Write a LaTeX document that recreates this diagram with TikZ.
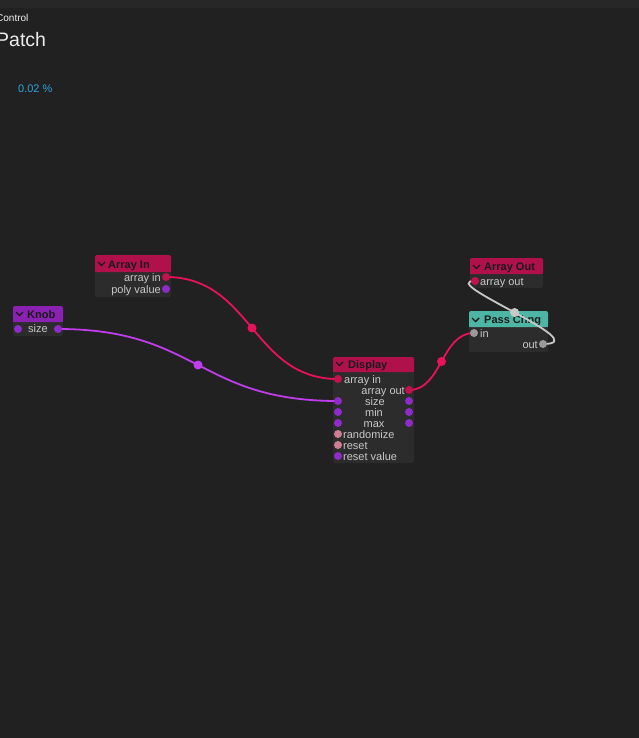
\documentclass[tikz,border=0pt]{standalone}
\usepackage{fontspec}
\setmainfont{Liberation Sans}
\definecolor{bgdark}{HTML}{212121}
\definecolor{bgbar}{HTML}{272727}
\definecolor{boxbody}{HTML}{2C2C2C}
\definecolor{hdrred}{HTML}{B0114B}
\definecolor{hdrpurple}{HTML}{8A21B2}
\definecolor{hdrteal}{HTML}{4DB5A4}
\definecolor{titletxt}{HTML}{1A1A1A}
\definecolor{lbltxt}{HTML}{C8C8C8}
\definecolor{prtred}{HTML}{C4124F}
\definecolor{prtpurple}{HTML}{8E2BC9}
\definecolor{prtpink}{HTML}{CF7D92}
\definecolor{prtgray}{HTML}{9A9A9A}
\definecolor{wirered}{HTML}{E8125C}
\definecolor{wirepurple}{HTML}{C03CEC}
\definecolor{wiregray}{HTML}{C8C8C8}
\definecolor{pctblue}{HTML}{2EA3DC}
\newcommand\pxfont[1]{\fontsize{#1}{#1}\selectfont}
\pgfdeclarelayer{top}
\pgfsetlayers{main,top}

\begin{document}
\begin{tikzpicture}[x=1pt,y=-1pt,
  boxbg/.style={fill=boxbody,rounded corners=2pt},
  title/.style={anchor=base west,inner sep=0pt,text=titletxt,font=\bfseries\pxfont{11}},
  lbl/.style={inner sep=0pt,text=lbltxt,font=\pxfont{11}},
  chev/.style={draw=titletxt,line width=1.4pt},
  port/.style={circle,fill=#1,inner sep=0pt,minimum size=8pt},
  wire/.style={draw=#1,line width=1.8pt},
  middot/.style={circle,fill=#1,inner sep=0pt,minimum size=9pt}]
  \useasboundingbox (0,0) rectangle (639,738);
  \clip (0,0) rectangle (639,738);
  \fill[bgdark] (0,0) rectangle (639,738);
  \fill[bgbar] (0,0) rectangle (639,8);
  \node[anchor=base west,inner sep=0pt,text=white!90!gray,font=\pxfont{10}] (ctrl) at (-4,22) {Control};
  \node[anchor=base west,inner sep=0pt,text=white!85!gray,font=\pxfont{19.5}] (patch) at (-4,47) {Patch};
  \node[anchor=base west,inner sep=0pt,text=pctblue,font=\pxfont{11}] (pct) at (18,93) {0.02 \%};

  % Array In
  \fill[boxbg] (95,255) rectangle (171,297);
  \fill[hdrred,rounded corners=2pt] (95,255) rectangle (171,272);
  \fill[hdrred] (95,266) rectangle (171,272);
  \draw[chev] (98,262) -- (101.5,265.5) -- (105,262);
  \node[title] (arrin) at (108,268) {Array In};
  \node[lbl,anchor=base east] (arrin-l1) at (161,281) {array in};
  \node[lbl,anchor=base east] (arrin-l2) at (161,293) {poly value};

  % Knob
  \fill[boxbg] (13,306) rectangle (63,336);
  \fill[hdrpurple,rounded corners=2pt] (13,306) rectangle (63,322);
  \fill[hdrpurple] (13,316) rectangle (63,322);
  \draw[chev] (16,312) -- (19.5,315.5) -- (23,312);
  \node[title] (knob) at (27,318) {Knob};
  \node[lbl,anchor=base west] (knob-l1) at (28,332.5) {size};

  % Display
  \fill[boxbg] (333,357) rectangle (414,463);
  \fill[hdrred,rounded corners=2pt] (333,357) rectangle (414,372);
  \fill[hdrred] (333,366) rectangle (414,372);
  \draw[chev] (336,362) -- (339.5,365.5) -- (343,362);
  \node[title] (disp) at (348,368) {Display};
  \node[lbl,anchor=base west] (disp-l1) at (344,383) {array in};
  \node[lbl,anchor=base east] (disp-l2) at (405,394) {array out};
  \node[lbl,anchor=base] (disp-l3) at (375,405) {size};
  \node[lbl,anchor=base] (disp-l4) at (374,416) {min};
  \node[lbl,anchor=base] (disp-l5) at (374,427) {max};
  \node[lbl,anchor=base west] (disp-l6) at (343,438) {randomize};
  \node[lbl,anchor=base west] (disp-l7) at (343,449) {reset};
  \node[lbl,anchor=base west] (disp-l8) at (343,460) {reset value};

  % Array Out
  \fill[boxbg] (470,258) rectangle (543,288);
  \fill[hdrred,rounded corners=2pt] (470,258) rectangle (543,274);
  \fill[hdrred] (470,268) rectangle (543,274);
  \draw[chev] (473,265) -- (476.5,268.5) -- (480,265);
  \node[title] (aout) at (484,270) {Array Out};
  \node[lbl,anchor=base west] (aout-l1) at (480,285) {array out};

  % Pass Chng
  \fill[boxbg] (469,311) rectangle (548,352);
  \fill[hdrteal,rounded corners=2pt] (469,311) rectangle (548,327);
  \fill[hdrteal] (469,321) rectangle (548,327);
  \draw[chev] (472,318) -- (475.5,321.5) -- (479,318);
  \node[title] (pc) at (484,323) {Pass Chng};
  \node[lbl,anchor=base west] (pc-l1) at (480,337) {in};
  \node[lbl,anchor=base east] (pc-l2) at (538,348) {out};

  % ports
  \begin{pgfonlayer}{top}
    \node[port=prtred] (arrin-arr) at (166,277) {};
    \node[port=prtpurple] (arrin-poly) at (166,289) {};
    \node[port=prtpurple] (knob-in) at (18,329) {};
    \node[port=prtpurple] (knob-size) at (58,329) {};
    \node[port=prtred] (disp-arr) at (338,379) {};
    \node[port=prtpurple] (disp-size) at (338,401) {};
    \node[port=prtpurple] (disp-min) at (338,412) {};
    \node[port=prtpurple] (disp-max) at (338,423) {};
    \node[port=prtpink] (disp-rand) at (338,434) {};
    \node[port=prtpink] (disp-reset) at (338,445) {};
    \node[port=prtpurple] (disp-rval) at (338,456) {};
    \node[port=prtred] (disp-out) at (409,390) {};
    \node[port=prtpurple] (disp-osize) at (409,401) {};
    \node[port=prtpurple] (disp-omin) at (409,412) {};
    \node[port=prtpurple] (disp-omax) at (409,423) {};
    \node[port=prtred] (aout-in) at (475,281) {};
    \node[port=prtgray] (pc-in) at (474,333) {};
    \node[port=prtgray] (pc-out) at (543,344) {};
  \end{pgfonlayer}

  % wires
  \draw[wire=wirered] (arrin-arr.center) .. controls +(86,0) and +(-86,0) .. (disp-arr.center)
    node[pos=0.5,middot=wirered] (dot1) {};
  \draw[wire=wirepurple] (knob-size.center) .. controls +(140,0) and +(-140,0) .. (disp-size.center)
    node[pos=0.5,middot=wirepurple] (dot2) {};
  \draw[wire=wirered] (disp-out.center) .. controls +(33,0) and +(-33,0) .. (pc-in.center)
    node[pos=0.5,middot=wirered] (dot3) {};
  \draw[wire=wiregray] (pc-out.center) .. controls +(55,0) and +(-40,0) .. (aout-in.center)
    node[pos=0.5,middot=wiregray] (dot4) {};
\end{tikzpicture}
\end{document}
